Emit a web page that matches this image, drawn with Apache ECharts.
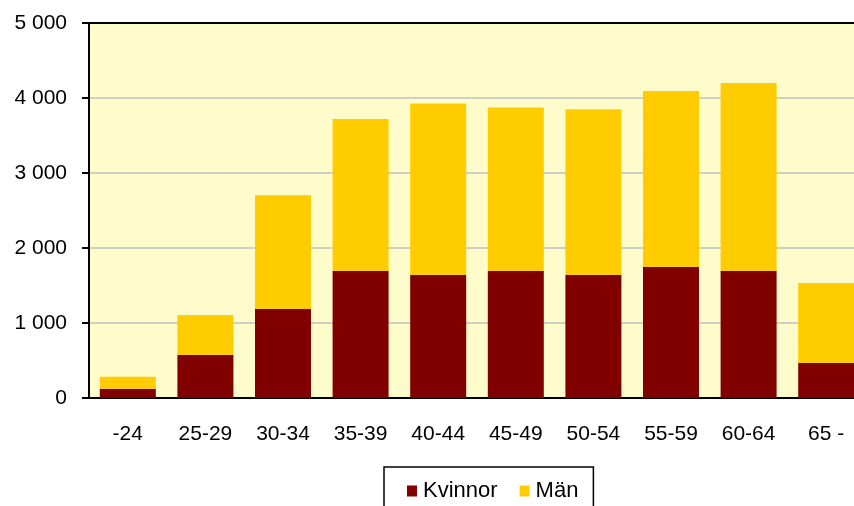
<!DOCTYPE html>
<html>
<head>
<meta charset="utf-8">
<script src="https://cdn.jsdelivr.net/npm/echarts@6/dist/echarts.min.js"></script>
<style>
  html, body { margin: 0; padding: 0; background: #fff; }
  #main { width: 854px; height: 506px; }
</style>
</head>
<body>
<div id="main"></div>
<script>
// åldersgrupper
var categories = ["-24", "25-29", "30-34", "35-39", "40-44", "45-49", "50-54", "55-59", "60-64", "65 -"];
var kvinnor = [123, 573, 1187, 1694, 1641, 1694, 1641, 1748, 1695, 466];
var man = [160, 534, 1518, 2026, 2287, 2181, 2209, 2345, 2505, 1068];
var yTicks = [0, 1000, 2000, 3000, 4000, 5000];

var fontName = "Liberation Sans";

var chart = echarts.init(document.getElementById("main"));

var option = {
  animation: false,
  textStyle: { fontFamily: fontName },
  grid: {
    left: 89,
    top: 23,
    width: 776,
    height: 375,
    outerBoundsMode: "none",
    show: true,
    backgroundColor: "#FFFCCC",
    borderColor: "#000",
    borderWidth: 2
  },
  legend: {
    left: 384,
    top: 467,
    padding: [13, 15, 24, 23],
    borderColor: "#000",
    borderWidth: 1.5,
    itemWidth: 10,
    itemHeight: 11,
    itemGap: 22,
    icon: "rect",
    textStyle: { fontFamily: fontName, fontSize: 22, color: "#000", padding: [0, 0, 0, 1] },
    data: ["Kvinnor", "Män"]
  },
  xAxis: {
    type: "category",
    data: categories,
    axisLine: { lineStyle: { color: "#000", width: 2 } },
    axisTick: { show: false },
    axisLabel: { fontSize: 21, color: "#000", margin: 26, fontFamily: fontName }
  },
  yAxis: {
    type: "value",
    min: yTicks[0],
    max: yTicks[yTicks.length - 1],
    interval: 1000,
    axisLine: { show: true, lineStyle: { color: "#000", width: 2 } },
    axisTick: { show: true, length: 7, lineStyle: { color: "#000", width: 2 } },
    splitLine: { showMinLine: false, showMaxLine: false, lineStyle: { color: "#c0c0c0", width: 1.5 } },
    axisLabel: {
      fontSize: 21,
      color: "#000",
      margin: 22,
      fontFamily: fontName,
      formatter: function (v) {
        // tusentalsavgränsare med mellanslag
        return String(v).replace(/\B(?=(\d{3})+(?!\d))/g, " ");
      }
    }
  },
  series: [
    {
      name: "Kvinnor",
      type: "bar",
      stack: "tot",
      data: kvinnor,
      barWidth: 56,
      itemStyle: { color: "#800000" }
    },
    {
      name: "Män",
      type: "bar",
      stack: "tot",
      data: man,
      barWidth: 56,
      itemStyle: { color: "#FFCC00" }
    }
  ]
};

chart.setOption(option);
</script>
</body>
</html>
